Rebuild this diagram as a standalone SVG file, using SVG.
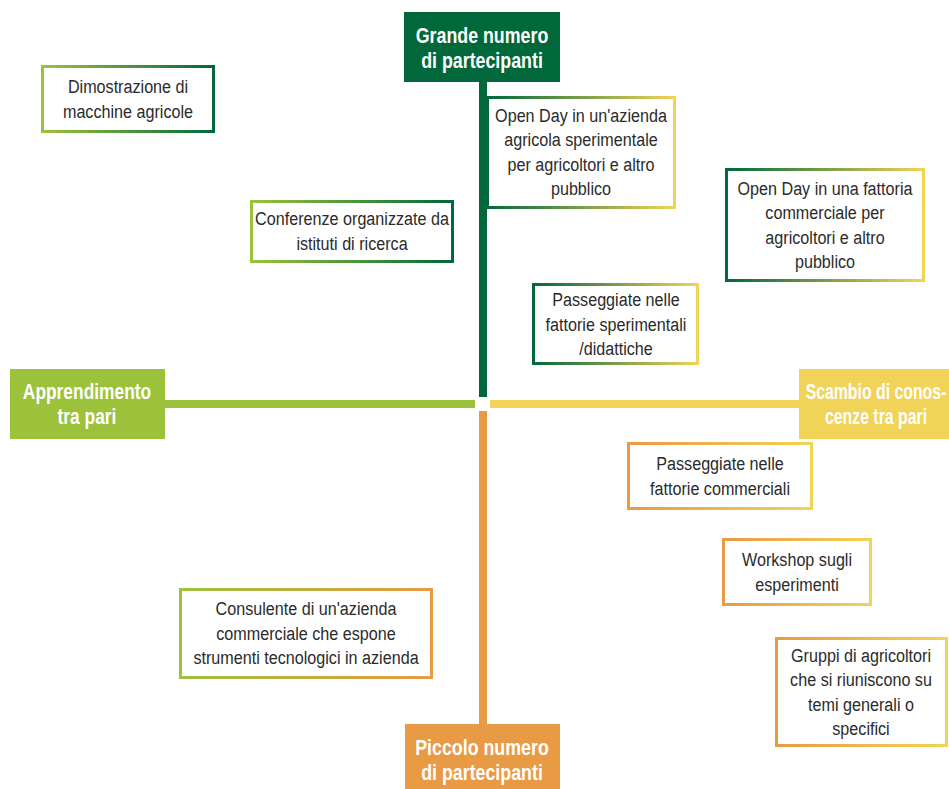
<svg xmlns="http://www.w3.org/2000/svg" width="949" height="789" viewBox="0 0 949 789">
<style>
.t{font-family:"Liberation Sans",Arial,sans-serif;font-size:19px;fill:#2b2b2b;text-anchor:middle}
.h{font-family:"Liberation Sans",Arial,sans-serif;font-size:22px;font-weight:bold;fill:#ffffff;text-anchor:middle}
.b{fill:#ffffff;stroke-width:3}
</style>
<defs>
<linearGradient id="gLD"><stop offset="0" stop-color="#9cc23c"/><stop offset="1" stop-color="#00683a"/></linearGradient>
<linearGradient id="gDY"><stop offset="0" stop-color="#00683a"/><stop offset="1" stop-color="#f1d358"/></linearGradient>
<linearGradient id="gOY"><stop offset="0" stop-color="#e99a45"/><stop offset="1" stop-color="#f1d358"/></linearGradient>
<linearGradient id="gLO"><stop offset="0" stop-color="#9cc23c"/><stop offset="1" stop-color="#e99a45"/></linearGradient>
</defs>
<rect width="949" height="789" fill="#ffffff"/>
<g id="connectors">
<rect x="479" y="80" width="8" height="317" fill="#00683a"/>
<rect x="479" y="411" width="8" height="315" fill="#e99a45"/>
<rect x="163" y="400" width="312" height="8" fill="#9cc23c"/>
<rect x="490" y="400" width="311" height="8" fill="#f1d358"/>
</g>
<g id="top">
<rect x="404" y="12" width="156" height="70" fill="#00683a"/>
<g transform="translate(482 0) scale(0.81 1)">
<text class="h" x="0" y="43">Grande numero</text>
<text class="h" x="0" y="68">di partecipanti</text>
</g>
</g>
<g id="bottom">
<rect x="405" y="724" width="155" height="65" fill="#e99a45"/>
<g transform="translate(482 0) scale(0.81 1)">
<text class="h" x="0" y="755">Piccolo numero</text>
<text class="h" x="0" y="780">di partecipanti</text>
</g>
</g>
<g id="left">
<rect x="10" y="369" width="155" height="70" fill="#9cc23c"/>
<g transform="translate(87 0) scale(0.79 1)">
<text class="h" x="0" y="399">Apprendimento</text>
<text class="h" x="0" y="424">tra pari</text>
</g>
</g>
<g id="right">
<rect x="799" y="369" width="150" height="70" fill="#f1d358"/>
<g transform="translate(876 0) scale(0.72 1)">
<text class="h" x="0" y="399">Scambio di conos-</text>
<text class="h" x="0" y="424">cenze tra pari</text>
</g>
</g>
<g id="n-dimostrazione">
<rect class="b" x="42.5" y="66.5" width="171" height="65" stroke="url(#gLD)"/>
<g transform="translate(128 0) scale(0.85 1)">
<text class="t" x="0" y="93.5">Dimostrazione di</text>
<text class="t" x="0" y="118">macchine agricole</text>
</g>
</g>
<g id="n-conferenze">
<rect class="b" x="251.5" y="201.5" width="201" height="60" stroke="url(#gLD)"/>
<g transform="translate(352 0) scale(0.85 1)">
<text class="t" x="0" y="225.5">Conferenze organizzate da</text>
<text class="t" x="0" y="250">istituti di ricerca</text>
</g>
</g>
<g id="n-openday1">
<rect class="b" x="487.5" y="97.5" width="187" height="110" stroke="url(#gDY)"/>
<g transform="translate(581 0) scale(0.85 1)">
<text class="t" x="0" y="122">Open Day in un'azienda</text>
<text class="t" x="0" y="146.5">agricola sperimentale</text>
<text class="t" x="0" y="171">per agricoltori e altro</text>
<text class="t" x="0" y="195.5">pubblico</text>
</g>
</g>
<g id="n-openday2">
<rect class="b" x="726.5" y="169.5" width="197" height="111" stroke="url(#gDY)"/>
<g transform="translate(825 0) scale(0.85 1)">
<text class="t" x="0" y="195">Open Day in una fattoria</text>
<text class="t" x="0" y="219.5">commerciale per</text>
<text class="t" x="0" y="244">agricoltori e altro</text>
<text class="t" x="0" y="268.5">pubblico</text>
</g>
</g>
<g id="n-passeggiate-sperimentali">
<rect class="b" x="533.5" y="284.5" width="164" height="79" stroke="url(#gDY)"/>
<g transform="translate(616 0) scale(0.85 1)">
<text class="t" x="0" y="306.5">Passeggiate nelle</text>
<text class="t" x="0" y="331">fattorie sperimentali</text>
<text class="t" x="0" y="355.5">/didattiche</text>
</g>
</g>
<g id="n-passeggiate-commerciali">
<rect class="b" x="628.5" y="443.5" width="183" height="65" stroke="url(#gOY)"/>
<g transform="translate(720 0) scale(0.85 1)">
<text class="t" x="0" y="470.5">Passeggiate nelle</text>
<text class="t" x="0" y="495">fattorie commerciali</text>
</g>
</g>
<g id="n-workshop">
<rect class="b" x="723.5" y="539.5" width="147" height="65" stroke="url(#gOY)"/>
<g transform="translate(797 0) scale(0.85 1)">
<text class="t" x="0" y="566.5">Workshop sugli</text>
<text class="t" x="0" y="591">esperimenti</text>
</g>
</g>
<g id="n-consulente">
<rect class="b" x="180.5" y="589.5" width="251" height="88" stroke="url(#gLO)"/>
<g transform="translate(306 0) scale(0.85 1)">
<text class="t" x="0" y="615.5">Consulente di un'azienda</text>
<text class="t" x="0" y="640">commerciale che espone</text>
<text class="t" x="0" y="664.5">strumenti tecnologici in azienda</text>
</g>
</g>
<g id="n-gruppi">
<rect class="b" x="776.5" y="638.5" width="170" height="107" stroke="url(#gOY)"/>
<g transform="translate(861 0) scale(0.85 1)">
<text class="t" x="0" y="662">Gruppi di agricoltori</text>
<text class="t" x="0" y="686.5">che si riuniscono su</text>
<text class="t" x="0" y="711">temi generali o</text>
<text class="t" x="0" y="735.5">specifici</text>
</g>
</g>
</svg>
